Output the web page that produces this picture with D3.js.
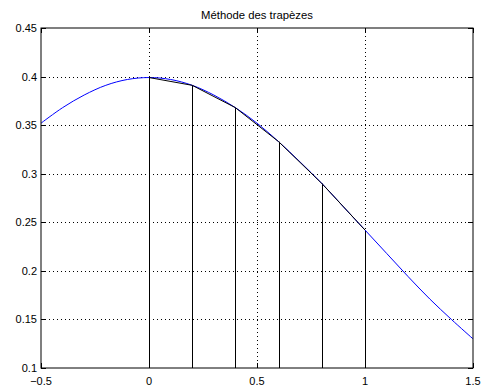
<!DOCTYPE html>
<html>
<head>
<meta charset="utf-8">
<script src="https://cdn.jsdelivr.net/npm/d3@7"></script>
<style>
  body { margin: 0; background: #fff; }
  svg { display: block; }
  text { font-family: "Liberation Sans", Arial, sans-serif; }
</style>
</head>
<body>
<script>
// blue curve: values
const curveX = [-0.5, -0.4, -0.3, -0.2, -0.1, 0, 0.1, 0.2, 0.3, 0.4, 0.5, 0.6, 0.7, 0.8, 0.9, 1.0, 1.1, 1.2, 1.3, 1.4, 1.5];
const curveY = [0.352, 0.368, 0.381, 0.391, 0.397, 0.399, 0.397, 0.391, 0.381, 0.368, 0.352, 0.333, 0.312, 0.290, 0.266, 0.242, 0.218, 0.194, 0.171, 0.150, 0.130];

// trapezoid nodes
const trapX = [0, 0.2, 0.4, 0.6, 0.8, 1.0];
const trapY = [0.399, 0.391, 0.368, 0.333, 0.290, 0.242];

const xTicks = [-0.5, 0, 0.5, 1, 1.5];
const yTicks = [0.1, 0.15, 0.2, 0.25, 0.3, 0.35, 0.4, 0.45];
const titleText = "Méthode des trapèzes";

const width = 482, height = 387;
const margin = { left: 41, right: 9, top: 28, bottom: 19 };

const svg = d3.select('body').append('svg')
  .attr('width', width)
  .attr('height', height);

const x = d3.scaleLinear().domain([-0.5, 1.5]).range([margin.left, width - margin.right]);
const y = d3.scaleLinear().domain([0.1, 0.45]).range([height - margin.bottom, margin.top]);

const fmt = d => (d < 0 ? '\u2212' : '') + String(Math.abs(d));

// grid
const grid = svg.append('g').attr('class', 'grid');
grid.selectAll('.gx')
  .data(xTicks.slice(1, -1))
  .enter().append('line')
  .attr('x1', d => Math.round(x(d)) + 0.5).attr('x2', d => Math.round(x(d)) + 0.5)
  .attr('y1', y(0.45)).attr('y2', y(0.1))
  .style('stroke', '#000').style('stroke-width', 1).style('stroke-dasharray', '1,3');
grid.selectAll('.gy')
  .data(yTicks.slice(1, -1))
  .enter().append('line')
  .attr('y1', d => Math.round(y(d)) + 0.5).attr('y2', d => Math.round(y(d)) + 0.5)
  .attr('x1', x(-0.5)).attr('x2', x(1.5))
  .style('stroke', '#000').style('stroke-width', 1).style('stroke-dasharray', '1,3');

// trapezoid verticals
svg.selectAll('.trapV')
  .data(trapX)
  .enter().append('line')
  .attr('class', 'trapV')
  .attr('x1', d => Math.round(x(d)) + 0.5).attr('x2', d => Math.round(x(d)) + 0.5)
  .attr('y1', y(0.1))
  .attr('y2', (d, i) => y(trapY[i]))
  .style('stroke', '#000').style('stroke-width', 1);

// blue curve
const curvePts = curveX.map((v, i) => [v, curveY[i]]);
svg.append('path')
  .datum(curvePts)
  .attr('d', d3.line().x(d => x(d[0])).y(d => y(d[1])).curve(d3.curveCatmullRom))
  .style('fill', 'none').style('stroke', '#0000ff').style('stroke-width', 1);

// trapezoid top polyline
const trapPts = trapX.map((v, i) => [v, trapY[i]]);
svg.append('path')
  .datum(trapPts)
  .attr('d', d3.line().x(d => x(d[0])).y(d => y(d[1])))
  .style('fill', 'none').style('stroke', '#000').style('stroke-width', 1);

// box
svg.append('rect')
  .attr('x', x(-0.5)).attr('y', y(0.45))
  .attr('width', x(1.5) - x(-0.5)).attr('height', y(0.1) - y(0.45))
  .style('fill', 'none').style('stroke', '#000').style('stroke-width', 1);

// inward ticks on all sides
const tl = 5;
const ticks = svg.append('g');
xTicks.forEach(d => {
  const px = Math.round(x(d)) + 0.5;
  ticks.append('line').attr('x1', px).attr('x2', px).attr('y1', y(0.1)).attr('y2', y(0.1) - tl).style('stroke', '#000');
  ticks.append('line').attr('x1', px).attr('x2', px).attr('y1', y(0.45)).attr('y2', y(0.45) + tl).style('stroke', '#000');
});
yTicks.forEach(d => {
  const py = Math.round(y(d)) + 0.5;
  ticks.append('line').attr('x1', x(-0.5)).attr('x2', x(-0.5) + tl).attr('y1', py).attr('y2', py).style('stroke', '#000');
  ticks.append('line').attr('x1', x(1.5)).attr('x2', x(1.5) - tl).attr('y1', py).attr('y2', py).style('stroke', '#000');
});

// tick labels
svg.selectAll('.xlab')
  .data(xTicks)
  .enter().append('text')
  .attr('x', d => x(d))
  .attr('y', y(0.1) + 17)
  .attr('text-anchor', 'middle')
  .style('font-size', '11px')
  .text(fmt);
svg.selectAll('.ylab')
  .data(yTicks)
  .enter().append('text')
  .attr('x', x(-0.5) - 4)
  .attr('y', d => y(d) + 4)
  .attr('text-anchor', 'end')
  .style('font-size', '11px')
  .text(fmt);

svg.append('text')
  .attr('x', (x(-0.5) + x(1.5)) / 2)
  .attr('y', 19)
  .attr('text-anchor', 'middle')
  .style('font-size', '11.3px')
  .text(titleText);
</script>
</body>
</html>
